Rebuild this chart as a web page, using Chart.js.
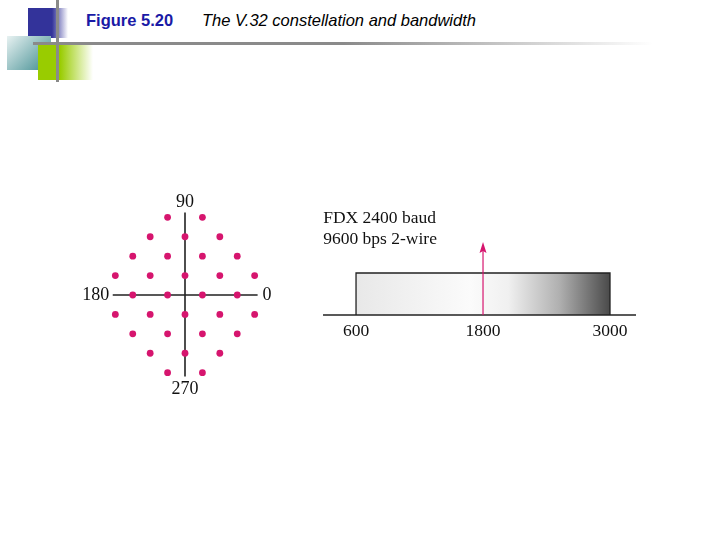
<!DOCTYPE html><html><head><meta charset="utf-8">
<script src="https://cdn.jsdelivr.net/npm/chart.js@4"></script>
<style>
body{margin:0;width:720px;height:540px;background:#fff;position:relative;overflow:hidden;font-family:"Liberation Sans",Arial,sans-serif}
.a{position:absolute}
canvas{position:absolute}
</style></head><body>
<div class="a" style="left:28px;top:8px;width:40px;height:30px;background:linear-gradient(90deg,#33339a 60%,rgba(51,51,154,0))"></div>
<div class="a" style="left:7px;top:36px;width:44px;height:34px;background:linear-gradient(135deg,#e8f2f2,#3c8a8e)"></div>
<div class="a" style="left:38px;top:45px;width:55px;height:35px;background:linear-gradient(90deg,#99cc00 40%,rgba(153,204,0,0))"></div>
<div class="a" style="left:56px;top:0;width:3px;height:82px;background:#8a8a8a"></div>
<div class="a" style="left:33px;top:42px;width:620px;height:3px;background:linear-gradient(90deg,#8a8a8a 50%,rgba(160,160,160,0))"></div>
<div class="a" style="left:86px;top:11px;font-size:16.5px;font-weight:bold;color:#1a1aa6">Figure 5.20</div>
<div class="a" style="left:202px;top:11px;font-size:16.5px;font-style:italic;color:#000">The V.32 constellation and bandwidth</div>
<canvas id="c1" style="left:80px;top:190px;width:210px;height:210px" width="210" height="210"></canvas>
<canvas id="c2" style="left:310px;top:200px;width:340px;height:140px" width="340" height="140"></canvas>
<script>
const pointX=[-1,1,-2,0,2,-3,-1,1,3,-4,-2,0,2,4,-3,-1,1,3,-4,-2,0,2,4,-3,-1,1,3,-2,0,2,-1,1];
const pointY=[4,4,3,3,3,2,2,2,2,1,1,1,1,1,0,0,0,0,-1,-1,-1,-1,-1,-2,-2,-2,-2,-3,-3,-3,-4,-4];
const phaseLabels=["0","90","180","270"];
const bandEdges=[600,3000];
const centerFreq=1800;
const freqTicks=[600,1800,3000];
const bandText=["FDX 2400 baud","9600 bps 2-wire"];
const serif='"Liberation Serif","DejaVu Serif",serif';
const hidden={display:false};
const axes1={
 id:'axes1',
 beforeDatasetsDraw(ch){
  const x=ch.scales.x,y=ch.scales.y,c=ch.ctx;
  c.save();c.strokeStyle='#222';c.lineWidth=1.6;c.beginPath();
  c.moveTo(x.getPixelForValue(-4.15),y.getPixelForValue(0));c.lineTo(x.getPixelForValue(4.17),y.getPixelForValue(0));
  c.moveTo(x.getPixelForValue(0),y.getPixelForValue(4.25));c.lineTo(x.getPixelForValue(0),y.getPixelForValue(-4.2));
  c.stroke();
  c.fillStyle='#111';c.font='18px '+serif;c.textBaseline='middle';
  c.textAlign='center';
  c.fillText(phaseLabels[1],x.getPixelForValue(0),y.getPixelForValue(4.75));
  c.fillText(phaseLabels[3],x.getPixelForValue(0),y.getPixelForValue(-4.85));
  c.textAlign='right';c.fillText(phaseLabels[2],x.getPixelForValue(-4.35),y.getPixelForValue(0));
  c.textAlign='left';c.fillText(phaseLabels[0],x.getPixelForValue(4.45),y.getPixelForValue(0));
  c.restore();
 }};
new Chart(document.getElementById('c1'),{type:'scatter',
 data:{datasets:[{data:pointX.map((v,i)=>({x:v,y:pointY[i]})),backgroundColor:'#d6156e',borderWidth:0,pointRadius:3.4}]},
 options:{responsive:false,animation:false,events:[],layout:{padding:0},
  plugins:{legend:hidden,tooltip:{enabled:false}},
  scales:{x:{type:'linear',min:-5.8,max:5.8,display:false},y:{type:'linear',min:-5.2,max:5.2,display:false}}},
 plugins:[axes1]});
const band={
 id:'band',
 beforeDatasetsDraw(ch){
  const x=ch.scales.x,y=ch.scales.y,c=ch.ctx;
  const x0=x.getPixelForValue(bandEdges[0]),x1=x.getPixelForValue(bandEdges[1]);
  const yb=y.getPixelForValue(25),yt=y.getPixelForValue(67);
  c.save();
  const g=c.createLinearGradient(x0,0,x1,0);
  g.addColorStop(0,'#e8e8e8');g.addColorStop(0.45,'#fbfbfb');g.addColorStop(0.6,'#f0f0f0');g.addColorStop(0.8,'#b0b0b0');g.addColorStop(1,'#4a4a4a');
  c.fillStyle=g;c.fillRect(x0,yt,x1-x0,yb-yt);
  c.strokeStyle='#222';c.lineWidth=1.3;c.beginPath();
  c.moveTo(x0,yb);c.lineTo(x0,yt);c.lineTo(x1,yt);c.lineTo(x1,yb);c.stroke();
  c.beginPath();c.moveTo(x.getPixelForValue(288),yb);c.lineTo(x.getPixelForValue(3246),yb);c.stroke();
  const xc=x.getPixelForValue(centerFreq),ya=y.getPixelForValue(98);
  c.strokeStyle='#d6156e';c.fillStyle='#d6156e';c.lineWidth=1.2;
  c.beginPath();c.moveTo(xc,yb);c.lineTo(xc,ya+6);c.stroke();
  c.beginPath();c.moveTo(xc,ya);c.lineTo(xc-3.5,ya+11);c.lineTo(xc,ya+9);c.lineTo(xc+3.5,ya+11);c.closePath();c.fill();
  c.fillStyle='#111';c.font='17.5px '+serif;c.textBaseline='middle';c.textAlign='center';
  freqTicks.forEach(f=>c.fillText(String(f),x.getPixelForValue(f),y.getPixelForValue(9)));
  c.textAlign='left';
  c.fillText(bandText[0],x.getPixelForValue(290),y.getPixelForValue(122));
  c.fillText(bandText[1],x.getPixelForValue(290),y.getPixelForValue(101));
  c.restore();
 }};
new Chart(document.getElementById('c2'),{type:'scatter',
 data:{datasets:[{data:[]}]},
 options:{responsive:false,animation:false,events:[],layout:{padding:0},
  plugins:{legend:hidden,tooltip:{enabled:false}},
  scales:{x:{type:'linear',min:165,max:3378,display:false},y:{type:'linear',min:0,max:140,display:false}}},
 plugins:[band]});
</script></body></html>
